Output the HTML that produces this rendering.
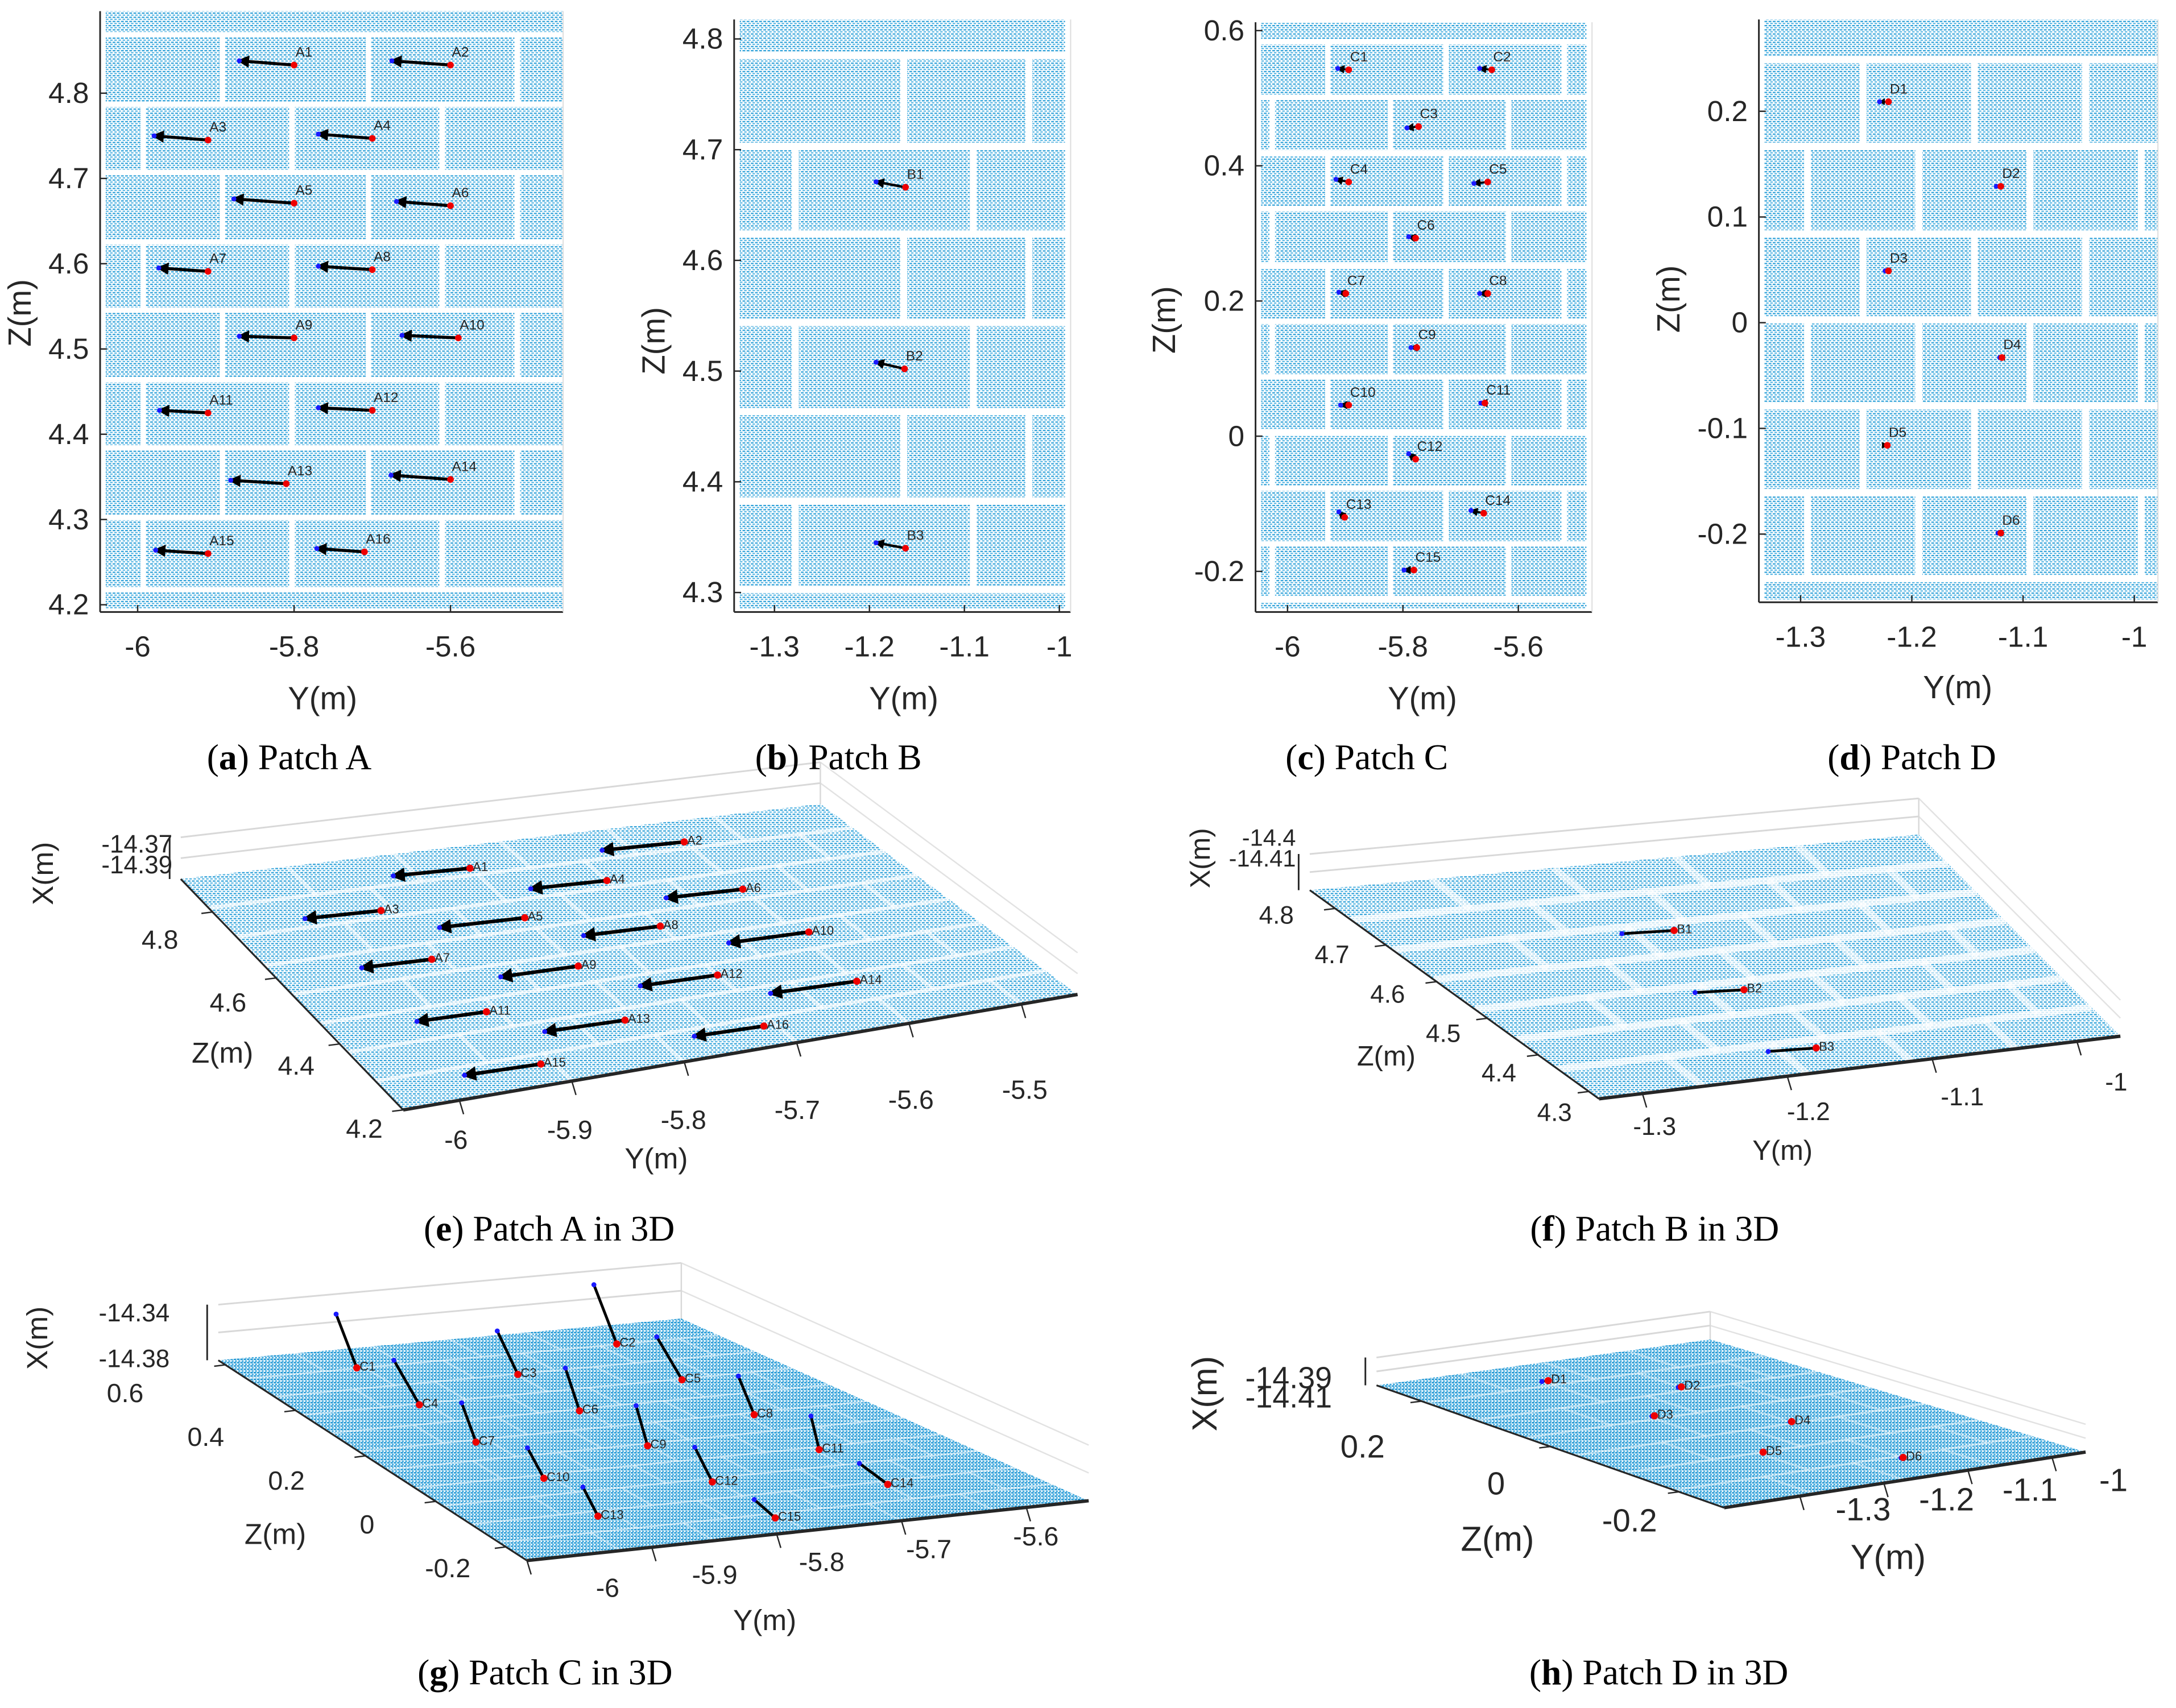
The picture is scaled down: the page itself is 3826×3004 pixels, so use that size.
<!DOCTYPE html>
<html><head><meta charset="utf-8">
<style>
html,body{margin:0;padding:0;background:#fff;}
svg{display:block;}
text{font-family:"Liberation Sans",sans-serif;fill:#262626;}
.cap{font-family:"Liberation Serif",serif;fill:#000;}
</style></head>
<body>
<svg id="fig" xmlns="http://www.w3.org/2000/svg" width="3826" height="3004" viewBox="0 0 1565 1228" preserveAspectRatio="none">
<defs>
<pattern id="pc" width="3" height="3" patternUnits="userSpaceOnUse">
<rect width="3" height="3" fill="#ffffff"/>
<rect x="0" y="0" width="2" height="0.9" fill="#2a9fd8"/>
<rect x="1.2" y="1.5" width="1.8" height="0.8" fill="#45aee0"/>
</pattern>
<pattern id="pc2" width="2.4" height="2.4" patternUnits="userSpaceOnUse">
<rect width="2.4" height="2.4" fill="#ffffff"/>
<rect x="0" y="0" width="1.9" height="1" fill="#1a94d2"/>
<rect x="1" y="1.3" width="1.4" height="0.9" fill="#2ea2dc"/>
</pattern>
<marker id="ah" viewBox="0 0 10 10" refX="8" refY="5" markerWidth="4" markerHeight="4" orient="auto-start-reverse">
<path d="M0,0 L10,5 L0,10 z" fill="#000"/>
</marker>
</defs>
</svg>
<script>
// ===== DATA =====
const aRedY=[-5.80,-5.60,-5.91,-5.70,-5.80,-5.60,-5.91,-5.70,-5.80,-5.59,-5.91,-5.70,-5.81,-5.60,-5.91,-5.71];
const aRedZ=[4.833,4.833,4.745,4.747,4.671,4.668,4.591,4.593,4.513,4.513,4.425,4.428,4.342,4.347,4.260,4.262];
const aBlueY=[-5.870,-5.675,-5.979,-5.769,-5.877,-5.669,-5.973,-5.769,-5.870,-5.662,-5.972,-5.769,-5.881,-5.676,-5.977,-5.771];
const aBlueZ=[4.838,4.838,4.750,4.752,4.676,4.673,4.595,4.597,4.515,4.516,4.428,4.431,4.346,4.352,4.264,4.266];
const bRedY=[-1.162,-1.163,-1.162];
const bRedZ=[4.666,4.502,4.340];
const bBlueY=[-1.193,-1.193,-1.193];
const bBlueZ=[4.671,4.508,4.345];
const cRedY=[-5.894,-5.646,-5.773,-5.894,-5.653,-5.778,-5.899,-5.653,-5.776,-5.894,-5.658,-5.778,-5.901,-5.660,-5.781];
const cRedZ=[0.542,0.542,0.458,0.376,0.376,0.293,0.211,0.211,0.131,0.046,0.049,-0.034,-0.120,-0.114,-0.198];
const cBlueY=[-5.913,-5.667,-5.793,-5.916,-5.677,-5.790,-5.911,-5.667,-5.786,-5.908,-5.665,-5.790,-5.911,-5.682,-5.798];
const cBlueZ=[0.544,0.544,0.456,0.380,0.374,0.295,0.213,0.211,0.131,0.046,0.049,-0.026,-0.112,-0.110,-0.198];
const cDX=[0.048,0.053,0.040,0.040,0.040,0.038,0.035,0.035,0.036,0.028,0.030,0.030,0.025,0.020,0.018];
const dRedY=[-1.221,-1.120,-1.221,-1.119,-1.222,-1.120];
const dRedZ=[0.209,0.129,0.049,-0.033,-0.116,-0.199];
const dBlueY=[-1.229,-1.124,-1.224,-1.121,-1.222,-1.1225];
const dBlueZ=[0.209,0.129,0.049,-0.033,-0.116,-0.199];
const aYTicks=[-6,-5.8,-5.6];
const aZTicks=[4.2,4.3,4.4,4.5,4.6,4.7,4.8];
const bYTicks=[-1.3,-1.2,-1.1,-1];
const bZTicks=[4.3,4.4,4.5,4.6,4.7,4.8];
const cYTicks=[-6,-5.8,-5.6];
const cZTicks=[-0.2,0,0.2,0.4,0.6];
const dYTicks=[-1.3,-1.2,-1.1,-1];
const dZTicks=[-0.2,-0.1,0,0.1,0.2];
const eYTicks=[-6,-5.9,-5.8,-5.7,-5.6,-5.5];
const eZTicks=[4.2,4.4,4.6,4.8];
const fYTicks=[-1.3,-1.2,-1.1,-1];
const fZTicks=[4.3,4.4,4.5,4.6,4.7,4.8];
const gYTicks=[-6,-5.9,-5.8,-5.7,-5.6];
const gZTicks=[-0.2,0,0.2,0.4,0.6];
const hYTicks=[-1.3,-1.2,-1.1,-1];
const hZTicks=[-0.2,0,0.2];

// ===== HELPERS =====
const NS='http://www.w3.org/2000/svg';
const svg=document.getElementById('fig');
function mk(tag,attrs,parent){const e=document.createElementNS(NS,tag);for(const k in attrs)e.setAttribute(k,attrs[k]);(parent||svg).appendChild(e);return e;}
function txt(s,x,y,size,anchor,parent,extra){const t=mk('text',Object.assign({x:x,y:y,'font-size':size,'text-anchor':anchor||'middle'},extra||{}),parent);t.textContent=s;return t;}
function fmt(v){return (Math.round(v*100)/100).toString();}

// ===== 2D PANELS =====
function panel2D(cfg){
  const g=mk('g',{});
  
  
  const sx=v=>cfg.px0+(v-cfg.yv0)*cfg.kx;
  const sy=v=>cfg.py0-(v-cfg.zv0)*cfg.kz;
  const cl=mk('clipPath',{id:'clip'+cfg.id},g);
  mk('rect',{x:cfg.L,y:cfg.T,width:cfg.R-cfg.L,height:cfg.B-cfg.T},cl);
  const cloud=mk('g',{'clip-path':'url(#clip'+cfg.id+')'},g);
  
  
  mk('rect',{x:cfg.L+cfg.padL,y:cfg.T+cfg.padT,width:cfg.R-cfg.L-cfg.padL-cfg.padR,height:cfg.B-cfg.T-cfg.padT-cfg.padB,fill:'url(#pc)'},cloud);
  cfg.hgaps.forEach((hy,i)=>{
    mk('rect',{x:cfg.L,y:hy-cfg.hw/2,width:cfg.R-cfg.L,height:cfg.hw,fill:'#fff'},cloud);
  });
  for(let i=0;i<cfg.hgaps.length-1;i++){
    const xs=(i%2===0)?cfg.vA:cfg.vB;
    xs.forEach(vx=>mk('rect',{x:vx-cfg.vw/2,y:cfg.hgaps[i],width:cfg.vw,height:cfg.hgaps[i+1]-cfg.hgaps[i],fill:'#fff'},cloud));
  }
  const ax=mk('g',{},g);
  
  
  mk('line',{x1:cfg.L,y1:cfg.T,x2:cfg.L,y2:cfg.B,stroke:'#262626','stroke-width':1.2},ax);
  mk('line',{x1:cfg.L,y1:cfg.B,x2:cfg.R,y2:cfg.B,stroke:'#262626','stroke-width':1.2},ax);
  mk('line',{x1:cfg.R,y1:cfg.T,x2:cfg.R,y2:cfg.B,stroke:'#ddd','stroke-width':0.8},ax);
  cfg.yt.forEach(v=>{
    const x=sx(v);
    mk('line',{x1:x,y1:cfg.B,x2:x,y2:cfg.B-5,stroke:'#262626','stroke-width':1},ax);
    const t=txt(fmt(v),x,cfg.B+32,21,'middle',ax);
    
    
  });
  cfg.zt.forEach(v=>{
    const y=sy(v);
    mk('line',{x1:cfg.L,y1:y,x2:cfg.L+5,y2:y,stroke:'#262626','stroke-width':1},ax);
    const t=txt(fmt(v),cfg.L-8,y+7,21,'end',ax);
    
    
  });
  const xt=txt('Y(m)',cfg.ylabX,cfg.ylabY,23,'middle',g);
  
  
  const zt=txt('Z(m)',0,0,23,'middle',g,{transform:'translate('+cfg.zlabX+','+cfg.zlabY+') rotate(-90)'});
  
  
  const m=mk('g',{},g);
  
  
  for(let i=0;i<cfg.ry.length;i++){
    const x1=sx(cfg.ry[i]),y1=sy(cfg.rz[i]),x2=sx(cfg.by[i]),y2=sy(cfg.bz[i]);
    const ln=mk('line',{x1:x1,y1:y1,x2:x2,y2:y2,stroke:'#000','stroke-width':cfg.lw,'marker-end':'url(#ah)'},m);
    
    
    const bd=mk('circle',{cx:x2,cy:y2,r:1.8,fill:'#1a1aff'},m);
    
    
    const rd=mk('circle',{cx:x1,cy:y1,r:2.4,fill:'#e00'},m);
    
    
    const lb=txt(cfg.p+(i+1),x1+1,y1-6,10,'start',m,{fill:'#000'});
    
    
  }
}

panel2D({id:'a',name:'panel-a',p:'A',L:72,R:405,T:8,B:440,padL:4,padR:0,padT:0,padB:2,
  px0:99,yv0:-6,kx:562.5,py0:67,zv0:4.8,kz:613,yt:aYTicks,zt:aZTicks,
  hgaps:[25,75,124,174,223,273,322,372,424],hw:4,vA:[160,265,372],vB:[103,210,318],vw:4,
  ry:aRedY,rz:aRedZ,by:aBlueY,bz:aBlueZ,lw:2.2,ylabX:232,ylabY:510,zlabX:22,zlabY:225});
panel2D({id:'b',name:'panel-b',p:'B',L:528,R:770,T:14,B:440,padL:4,padR:4,padT:0,padB:2,
  px0:557,yv0:-1.3,kx:683,py0:28,zv0:4.8,kz:796,yt:bYTicks,zt:bZTicks,
  hgaps:[40,105,168,232,296,360,424],hw:5,vA:[650,740],vB:[572,700],vw:5,
  ry:bRedY,rz:bRedZ,by:bBlueY,bz:bBlueZ,lw:1.8,ylabX:650,ylabY:510,zlabX:478,zlabY:245});
panel2D({id:'c',name:'panel-c',p:'C',L:903,R:1145,T:16,B:440,padL:4,padR:4,padT:0,padB:2,
  px0:926,yv0:-6,kx:415,py0:22,zv0:0.6,kz:486,yt:cYTicks,zt:cZTicks,
  hgaps:[30,70,110,150,191,231,271,311,351,391,431],hw:4,vA:[955,1040,1125],vB:[915,1000,1085],vw:4,
  ry:cRedY,rz:cRedZ,by:cBlueY,bz:cBlueZ,lw:1.5,ylabX:1023,ylabY:510,zlabX:845,zlabY:230});
panel2D({id:'d',name:'panel-d',p:'D',L:1265,R:1552,T:14,B:433,padL:4,padR:0,padT:0,padB:2,
  px0:1295,yv0:-1.3,kx:800,py0:232,zv0:0,kz:760,yt:dYTicks,zt:dZTicks,
  hgaps:[43,105,168,230,292,354,416],hw:5,vA:[1340,1420,1500],vB:[1300,1380,1460,1540],vw:5,
  ry:dRedY,rz:dRedZ,by:dBlueY,bz:dBlueZ,lw:1.2,ylabX:1408,ylabY:502,zlabX:1208,zlabY:215});

// ===== 3D PANELS =====
function panel3D(cfg){
  const g=mk('g',{});
  
  
  const [TL,TR,BR,BL]=cfg.q;
  const bil=(u,v)=>[(1-u)*(1-v)*TL[0]+u*(1-v)*TR[0]+u*v*BR[0]+(1-u)*v*BL[0],(1-u)*(1-v)*TL[1]+u*(1-v)*TR[1]+u*v*BR[1]+(1-u)*v*BL[1]];
  const proj=(Y,Z)=>bil((Y-cfg.y0)/(cfg.y1-cfg.y0),(cfg.z1-Z)/(cfg.z1-cfg.z0));
  const box=mk('g',{},g);
  
  
  for(let k=1;k<=2;k++){
    const o=cfg.boxH*k/2;
    mk('line',{x1:TL[0],y1:TL[1]-o,x2:TR[0],y2:TR[1]-o,stroke:'#d8d8d8','stroke-width':1.2},box);
    mk('line',{x1:TR[0],y1:TR[1]-o,x2:BR[0],y2:BR[1]-o,stroke:'#e2e2e2','stroke-width':1},box);
  }
  mk('line',{x1:TR[0],y1:TR[1]-cfg.boxH,x2:TR[0],y2:TR[1],stroke:'#d8d8d8','stroke-width':1},box);
  const cloud=mk('g',{},g);
  
  
  mk('polygon',{points:cfg.q.map(p=>p.join(',')).join(' '),fill:'url(#'+cfg.pat+')'},cloud);
  for(let i=1;i<cfg.nh;i++){const a=bil(0,i/cfg.nh),b=bil(1,i/cfg.nh);mk('line',{x1:a[0],y1:a[1],x2:b[0],y2:b[1],stroke:'#fff','stroke-width':cfg.mw,opacity:cfg.mo},cloud);}
  for(let i=0;i<cfg.nh;i++){for(let j=1;j<cfg.nv;j++){const u=(j+(i%2?0.5:0))/cfg.nv;if(u>=1)continue;const a=bil(u,i/cfg.nh),b=bil(u,(i+1)/cfg.nh);mk('line',{x1:a[0],y1:a[1],x2:b[0],y2:b[1],stroke:'#fff','stroke-width':cfg.mw,opacity:cfg.mo*0.8},cloud);}}
  const ax=mk('g',{},g);
  
  
  mk('line',{x1:BL[0],y1:BL[1],x2:BR[0],y2:BR[1],stroke:'#262626','stroke-width':2.4},ax);
  mk('line',{x1:TL[0],y1:TL[1],x2:BL[0],y2:BL[1],stroke:'#262626','stroke-width':1.3},ax);
  mk('line',{x1:TL[0]-8,y1:TL[1]-cfg.boxH,x2:TL[0]-8,y2:TL[1],stroke:'#262626','stroke-width':1.2},ax);
  cfg.yt.forEach(v=>{
    const p=proj(v,cfg.z0);
    mk('line',{x1:p[0],y1:p[1],x2:p[0]+3,y2:p[1]+10,stroke:'#262626','stroke-width':1},ax);
    const f=(v-cfg.yt[0])/(cfg.yt[cfg.yt.length-1]-cfg.yt[0]);
    const t=txt(fmt(v),cfg.yl[0][0]+f*(cfg.yl[1][0]-cfg.yl[0][0]),cfg.yl[0][1]+f*(cfg.yl[1][1]-cfg.yl[0][1]),cfg.fs,'middle',ax);
    
    
  });
  cfg.zt.forEach(v=>{
    const p=proj(cfg.y0,v);
    mk('line',{x1:p[0],y1:p[1],x2:p[0]-8,y2:p[1]+1,stroke:'#262626','stroke-width':1},ax);
    const f=(v-cfg.zt[0])/(cfg.zt[cfg.zt.length-1]-cfg.zt[0]);
    const t=txt(fmt(v),cfg.zl[0][0]+f*(cfg.zl[1][0]-cfg.zl[0][0]),cfg.zl[0][1]+f*(cfg.zl[1][1]-cfg.zl[0][1]),cfg.fs,'middle',ax);
    
    
  });
  cfg.xt.forEach((s,i)=>{
    const t=txt(s,cfg.xl[0],cfg.xl[1]+i*cfg.xl[2],cfg.fs-1,'end',ax);
    
    
  });
  const yt=txt('Y(m)',cfg.yT[0],cfg.yT[1],cfg.fs+2,'middle',g);
  
  
  const zt=txt('Z(m)',cfg.zT[0],cfg.zT[1],cfg.fs+2,'middle',g);
  
  
  const xtt=txt('X(m)',0,0,cfg.fs+2,'middle',g,{transform:'translate('+cfg.xT[0]+','+cfg.xT[1]+') rotate(-90)'});
  
  
  const m=mk('g',{},g);
  
  
  for(let i=0;i<cfg.ry.length;i++){
    const r=proj(cfg.ry[i],cfg.rz[i]);
    const b=proj(cfg.by[i],cfg.bz[i]);
    if(cfg.dx){b[1]-=cfg.dx[i]*cfg.kx;}
    const ln=mk('line',{x1:r[0],y1:r[1],x2:b[0],y2:b[1],stroke:'#000','stroke-width':cfg.lw,'marker-end':cfg.head?'url(#ah)':''},m);
    
    
    const bd=mk('circle',{cx:b[0],cy:b[1],r:1.8,fill:'#1a1aff'},m);
    
    
    const rd=mk('circle',{cx:r[0],cy:r[1],r:2.6,fill:'#e00'},m);
    
    
    const lb=txt(cfg.p+(i+1),r[0]+2,r[1]+2,9,'start',m,{fill:'#000'});
    
    
  }
}

panel3D({name:'panel-e',p:'A',q:[[130,632],[590,578],[775,715],[290,798]],y0:-6.05,y1:-5.45,z0:4.2,z1:4.9,pat:'pc',nh:8,nv:6,mw:2.5,mo:0.7,boxH:30,
  yt:eYTicks,zt:eZTicks,yl:[[328,826],[737,790]],zl:[[262,818],[115,682]],xt:['-14.37','-14.39'],xl:[124,613,15],fs:19,
  yT:[472,840],zT:[160,764],xT:[38,628],ry:aRedY,rz:aRedZ,by:aBlueY,bz:aBlueZ,lw:2.6,head:true});
panel3D({name:'panel-f',p:'B',q:[[942,640],[1380,600],[1525,745],[1150,790]],y0:-1.33,y1:-0.97,z0:4.28,z1:4.85,pat:'pc',nh:7,nv:5,mw:5,mo:0.75,boxH:26,
  yt:fYTicks,zt:fZTicks,yl:[[1190,816],[1522,784]],zl:[[1118,806],[918,664]],xt:['-14.4','-14.41'],xl:[932,608,15],fs:18,
  yT:[1282,834],zT:[997,766],xT:[870,617],ry:bRedY,rz:bRedZ,by:bBlueY,bz:bBlueZ,lw:2,head:false});
panel3D({name:'panel-g',p:'C',q:[[157,978],[490,948],[783,1079],[379,1122]],y0:-6.0,y1:-5.55,z0:-0.26,z1:0.62,pat:'pc2',nh:11,nv:6,mw:1.2,mo:0.5,boxH:40,
  yt:gYTicks,zt:gZTicks,yl:[[437,1148],[745,1111]],zl:[[322,1134],[90,1008]],xt:['-14.34','-14.38'],xl:[122,950,33],fs:19,
  yT:[550,1172],zT:[198,1110],xT:[34,962],ry:cRedY,rz:cRedZ,by:cBlueY,bz:cBlueZ,dx:cDX,kx:825,lw:2,head:false});
panel3D({name:'panel-h',p:'D',q:[[990,996],[1230,963],[1500,1044],[1240,1084]],y0:-1.39,y1:-0.96,z0:-0.27,z1:0.27,pat:'pc2',nh:7,nv:4,mw:1.5,mo:0.45,boxH:20,
  yt:hYTicks,zt:hZTicks,yl:[[1340,1093],[1520,1072]],zl:[[1172,1101],[980,1048]],xt:['-14.39','-14.41'],xl:[958,998,14],fs:23,
  yT:[1358,1128],zT:[1077,1115],xT:[875,1002],ry:dRedY,rz:dRedZ,by:dBlueY,bz:dBlueZ,lw:1.5,head:false});

// ===== CAPTIONS =====
const caps=[['a','Patch A',208,553],['b','Patch B',603,553],['c','Patch C',983,553],['d','Patch D',1375,553],
  ['e','Patch A in 3D',395,892],['f','Patch B in 3D',1190,892],['g','Patch C in 3D',392,1211],['h','Patch D in 3D',1193,1211]];
caps.forEach(c=>{
  const t=mk('text',{x:c[2],y:c[3],'font-size':26,'text-anchor':'middle',class:'cap'});
  
  
  const s1=mk('tspan',{},t);s1.textContent='(';
  const s2=mk('tspan',{'font-weight':'bold'},t);s2.textContent=c[0];
  const s3=mk('tspan',{},t);s3.textContent=') '+c[1];
});
</script>
</body></html>
